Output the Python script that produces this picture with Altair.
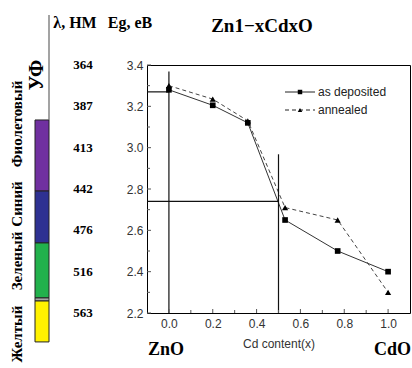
import altair as alt
import pandas as pd

# ---- data ----
x_cd = [0.0, 0.2, 0.36, 0.53, 0.77, 1.0]
eg_deposited = [3.28, 3.205, 3.12, 2.65, 2.50, 2.40]
eg_annealed = [3.30, 3.235, 3.13, 2.71, 2.65, 2.30]
series_names = ["as deposited", "annealed"]

eg_ticks = [3.4, 3.2, 3.0, 2.8, 2.6, 2.4, 2.2]
wavelength_nm = ["364", "387", "413", "442", "476", "516", "563"]
eg_minor = [3.3, 3.1, 2.9, 2.7, 2.5, 2.3]
x_ticks = [0.0, 0.2, 0.4, 0.6, 0.8, 1.0]
x_minor = [0.1, 0.3, 0.5, 0.7, 0.9]

band_top = [3.134, 2.790, 2.539, 2.273, 2.258]
band_bottom = [2.790, 2.539, 2.273, 2.258, 2.060]
band_color = ["#7030a0", "#2e3192", "#22b14c", "#a6a6a6", "#fff200"]
color_names = ["Фиолетовый", "Синий", "Зеленый", "Желтый"]

guide_x = [0.0, -0.1, -0.1, 0.5]
guide_x2 = [0.0, 0.0, 0.5, 0.5]
guide_y = [2.2, 3.27, 2.74, 2.2]
guide_y2 = [3.368, 3.27, 2.74, 2.968]

SERIF = "Liberation Serif"
SANS = "Liberation Sans"

xs = alt.Scale(domain=[-0.1, 1.1], nice=False, zero=False)
ys = alt.Scale(domain=[2.2, 3.4], nice=False, zero=False)

x_axis = alt.Axis(values=x_ticks, format=".1f", ticks=False, domain=False, grid=False,
                  labelFont=SANS, labelFontSize=12, labelColor="#333", labelPadding=5,
                  labelFlush=False, title="Cd content(x)", titleFont=SANS, titleFontSize=12,
                  titleFontWeight="normal", titleColor="#333", titlePadding=9)
y_axis = alt.Axis(values=eg_ticks, format=".1f", ticks=False, domain=False, grid=False,
                  labelFont=SANS, labelFontSize=12, labelColor="#333", labelPadding=4,
                  labelFlush=False, title=None)


def X(f):
    return alt.X(f, scale=xs, axis=x_axis, title="Cd content(x)")


def Y(f):
    return alt.Y(f, scale=ys, axis=y_axis, title=None)


df = pd.DataFrame({
    "x": x_cd * 2,
    "eg": eg_deposited + eg_annealed,
    "s": [series_names[0]] * len(x_cd) + [series_names[1]] * len(x_cd),
})
dep = df[df.s == series_names[0]]
ann = df[df.s == series_names[1]]

line_dep = alt.Chart(dep).mark_line(color="#333", strokeWidth=1).encode(x=X("x:Q"), y=Y("eg:Q"))
line_ann = alt.Chart(ann).mark_line(color="#444", strokeWidth=1, strokeDash=[4, 3]).encode(
    x=X("x:Q"), y=Y("eg:Q"))
pt_dep = alt.Chart(dep).mark_point(shape="square", filled=True, color="black", size=32, opacity=1).encode(
    x=X("x:Q"), y=Y("eg:Q"))
pt_ann = alt.Chart(ann).mark_point(shape="triangle-up", filled=True, color="black", size=38, opacity=1).encode(
    x=X("x:Q"), y=Y("eg:Q"))

guides = alt.Chart(pd.DataFrame({"x": guide_x, "x2": guide_x2, "y": guide_y, "y2": guide_y2})).mark_rule(
    color="#111", strokeWidth=1.2).encode(x=X("x:Q"), x2="x2:Q", y=Y("y:Q"), y2="y2:Q")

# inner ticks
ymaj = alt.Chart(pd.DataFrame({"v": eg_ticks})).mark_rule(color="#555", strokeWidth=1).encode(
    y=Y("v:Q"), x=alt.value(0), x2=alt.value(4))
ymin = alt.Chart(pd.DataFrame({"v": eg_minor})).mark_rule(color="#555", strokeWidth=1).encode(
    y=Y("v:Q"), x=alt.value(0), x2=alt.value(3))
xmaj = alt.Chart(pd.DataFrame({"v": x_ticks})).mark_rule(color="#555", strokeWidth=1).encode(
    x=X("v:Q"), y=alt.value(248), y2=alt.value(244))
xmin = alt.Chart(pd.DataFrame({"v": x_minor})).mark_rule(color="#555", strokeWidth=1).encode(
    x=X("v:Q"), y=alt.value(248), y2=alt.value(245))

# wavelength column
wl = alt.Chart(pd.DataFrame({"eg": eg_ticks, "nm": wavelength_nm})).mark_text(
    font=SERIF, fontWeight="bold", fontSize=13, align="center", baseline="middle", color="black").encode(
    y=Y("eg:Q"), x=alt.value(-64), text="nm:N")

# colour bar
bar = alt.Chart(pd.DataFrame({"t": band_top, "b": band_bottom, "c": band_color})).mark_rect(
    stroke="#222", strokeWidth=1).encode(
    y=Y("t:Q"), y2="b:Q", x=alt.value(-112), x2=alt.value(-98), fill=alt.Fill("c:N", scale=None))
bar_line = alt.Chart(pd.DataFrame({"a": [0]})).mark_rule(color="#666", strokeWidth=1.2).encode(
    x=alt.value(-98), y=alt.value(-50), y2=alt.value(55))


def txt(s, x, y, size, font=SERIF, weight="bold", angle=0, align="center", color="black"):
    kw = dict(font=font, fontWeight=weight, fontSize=size, align=align, baseline="middle", color=color)
    if angle:
        kw["angle"] = angle
    return alt.Chart(pd.DataFrame({"t": [s]})).mark_text(**kw).encode(
        x=alt.value(x), y=alt.value(y), text="t:N")


name_pos = [59, 139, 196, 269]
names = [txt(n, -130, p, 15, angle=270) for n, p in zip(color_names, name_pos)]

texts = [
    txt("УФ", -110, 10, 20, angle=270),
    txt("λ, НМ", -72, -42, 16),
    txt("Eg, eB", -17, -42, 16),
    txt("Zn1−xCdxO", 115, -39, 19),
    txt("ZnO", 19, 285, 18),
    txt("CdO", 264, 285, 18, align="right"),
]

# legend
leg = []
for i, (nm, dash, shp) in enumerate([(series_names[0], [1, 0], "square"), (series_names[1], [4, 3], "triangle-up")]):
    yy = 27 + i * 18
    d = pd.DataFrame({"a": [0]})
    leg.append(alt.Chart(d).mark_rule(color="#222", strokeWidth=1, strokeDash=dash).encode(
        x=alt.value(138), x2=alt.value(168), y=alt.value(yy)))
    leg.append(alt.Chart(d).mark_point(shape=shp, filled=True, color="black", size=20, opacity=1).encode(
        x=alt.value(153), y=alt.value(yy)))
    leg.append(txt(nm, 171, yy, 12, font=SANS, weight="normal", align="left", color="#222"))

chart = alt.layer(
    line_dep, line_ann, guides, pt_dep, pt_ann, ymaj, ymin, xmaj, xmin, wl, bar, bar_line,
    *names, *texts, *leg
).properties(
    width=263, height=248,
    padding={"left": 147, "top": 65, "right": 2, "bottom": 55},
    autosize=alt.AutoSizeParams(type="none"),
).configure_view(stroke="black", strokeWidth=1)

chart.save("out.html", embed_options={"renderer": "svg", "actions": False})
